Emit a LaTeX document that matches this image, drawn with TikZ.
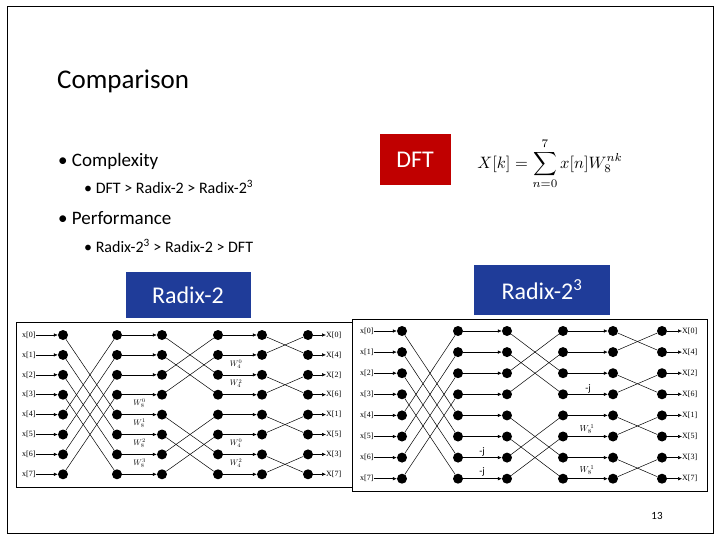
\documentclass[tikz,border=0pt]{standalone}
\usepackage{fontspec}
\setmainfont{Carlito}
\newfontfamily\serifdiag{Liberation Serif}
\usetikzlibrary{arrows.meta}
\definecolor{dftred}{HTML}{C00000}
\definecolor{radblue}{HTML}{1F3C99}
\tikzset{
  dot/.style={circle,fill=black,inner sep=0pt,minimum size=10pt},
  wire/.style={line width=0.5pt},
  arr/.style={line width=0.5pt,-{Latex[length=4pt,width=3.5pt]}},
  lbl/.style={font=\serifdiag\fontsize{8}{8}\selectfont,inner sep=0pt},
  wl/.style={inner sep=0pt,scale=0.8},
  jl/.style={inner sep=0pt,font=\fontsize{10}{10}\selectfont},
  boxlbl/.style={text=white,font=\fontsize{24}{24}\selectfont,inner sep=0pt},
  bullet/.style={anchor=west,inner sep=0pt,font=\fontsize{19}{19}\selectfont},
  subbullet/.style={anchor=west,inner sep=0pt,font=\fontsize{16}{16}\selectfont},
}
\newcommand\fftnet[6]{%
  \foreach \c [count=\ci] in {#2}{
    \foreach \r in {0,...,7}{
      \node[dot] (#1-\ci-\r) at (\c,#3+\r*#4) {};
    }}
  \foreach \r/\o in {0/0,1/4,2/2,3/6,4/1,5/5,6/3,7/7}{
    \node[lbl,anchor=west] (#1-in-\r) at (#5,#3+\r*#4) {x[\r]};
    \node[lbl,anchor=west] (#1-out-\r) at (#6,#3+\r*#4) {X[\o]};
    \draw[arr] (#1-in-\r) -- (#1-1-\r);
    \draw[arr] (#1-6-\r) -- (#1-out-\r);
    \draw[arr] (#1-2-\r) -- (#1-3-\r);
    \draw[arr] (#1-4-\r) -- (#1-5-\r);
    \pgfmathtruncatemacro\ta{mod(\r+4,8)}
    \pgfmathtruncatemacro\tb{\r+(mod(\r,4)<2 ? 2 : -2)}
    \pgfmathtruncatemacro\tc{\r+(mod(\r,2)<1 ? 1 : -1)}
    \draw[wire] (#1-1-\r) -- (#1-2-\ta);
    \draw[wire] (#1-3-\r) -- (#1-4-\tb);
    \draw[wire] (#1-5-\r) -- (#1-6-\tc);
  }}
\begin{document}
\begin{tikzpicture}[x=1pt,y=-1pt]
\useasboundingbox (0,0) rectangle (720,540);
\fill[white] (0,0) rectangle (720,540);
\draw[line width=1pt] (7,7) rectangle (713,533);
\node[anchor=west,inner sep=0pt,font=\fontsize{27}{27}\selectfont] (title) at (57,81) {Comparison};
\node[bullet] (b1) at (58,161) {• Complexity};
\node[subbullet] (s1) at (84,187) {• DFT > Radix-2 > Radix-2\textsuperscript{3}};
\node[bullet] (b2) at (58,218) {• Performance};
\node[subbullet] (s2) at (84,246) {• Radix-2\textsuperscript{3} > Radix-2 > DFT};
\node[fill=dftred,minimum width=71pt,minimum height=51pt,boxlbl] (dft) at (415,160) {DFT};
\node[anchor=west,inner sep=0pt,scale=1.65] (eq) at (477,164) {$X[k]=\displaystyle\sum_{n=0}^{7}x[n]W_8^{nk}$};
\node[fill=radblue,minimum width=125pt,minimum height=46pt,boxlbl] (r2) at (188,295) {Radix-2};
\node[fill=radblue,minimum width=136pt,minimum height=50pt,boxlbl] (r23) at (542,290) {Radix-2\textsuperscript{3}};
% left diagram
\draw[fill=white,line width=0.8pt] (16,322) rectangle (353,487);
\fftnet{L}{63,117,162,218,262,308}{335}{19.9}{22}{326}
\foreach \r/\t in {4/{W_8^0},5/{W_8^1},6/{W_8^2},7/{W_8^3}}
  \node[wl] (Lw\r) at (139.5,324+\r*19.9) {$\t$};
\foreach \r/\t in {2/{W_4^0},3/{W_4^2},6/{W_4^0},7/{W_4^2}}
  \node[wl] (Lv\r) at (236,324+\r*19.9) {$\t$};
% right diagram
\draw[fill=white,line width=0.8pt] (352,319) rectangle (707,491);
\fftnet{R}{402,458,507,563,613,662}{331}{21.1}{360}{682}
\node[jl] (Rj6) at (482,452) {-j};
\node[jl] (Rj7) at (482,472) {-j};
\node[jl] (Rj3) at (588,389) {-j};
\node[wl,scale=1.1] (Rw5) at (587,429) {$W_8^{\,1}$};
\node[wl,scale=1.1] (Rw7) at (587,470) {$W_8^{\,1}$};
\node[inner sep=0pt,font=\fontsize{11}{11}\selectfont] (pg) at (657,516) {13};
\end{tikzpicture}
\end{document}
